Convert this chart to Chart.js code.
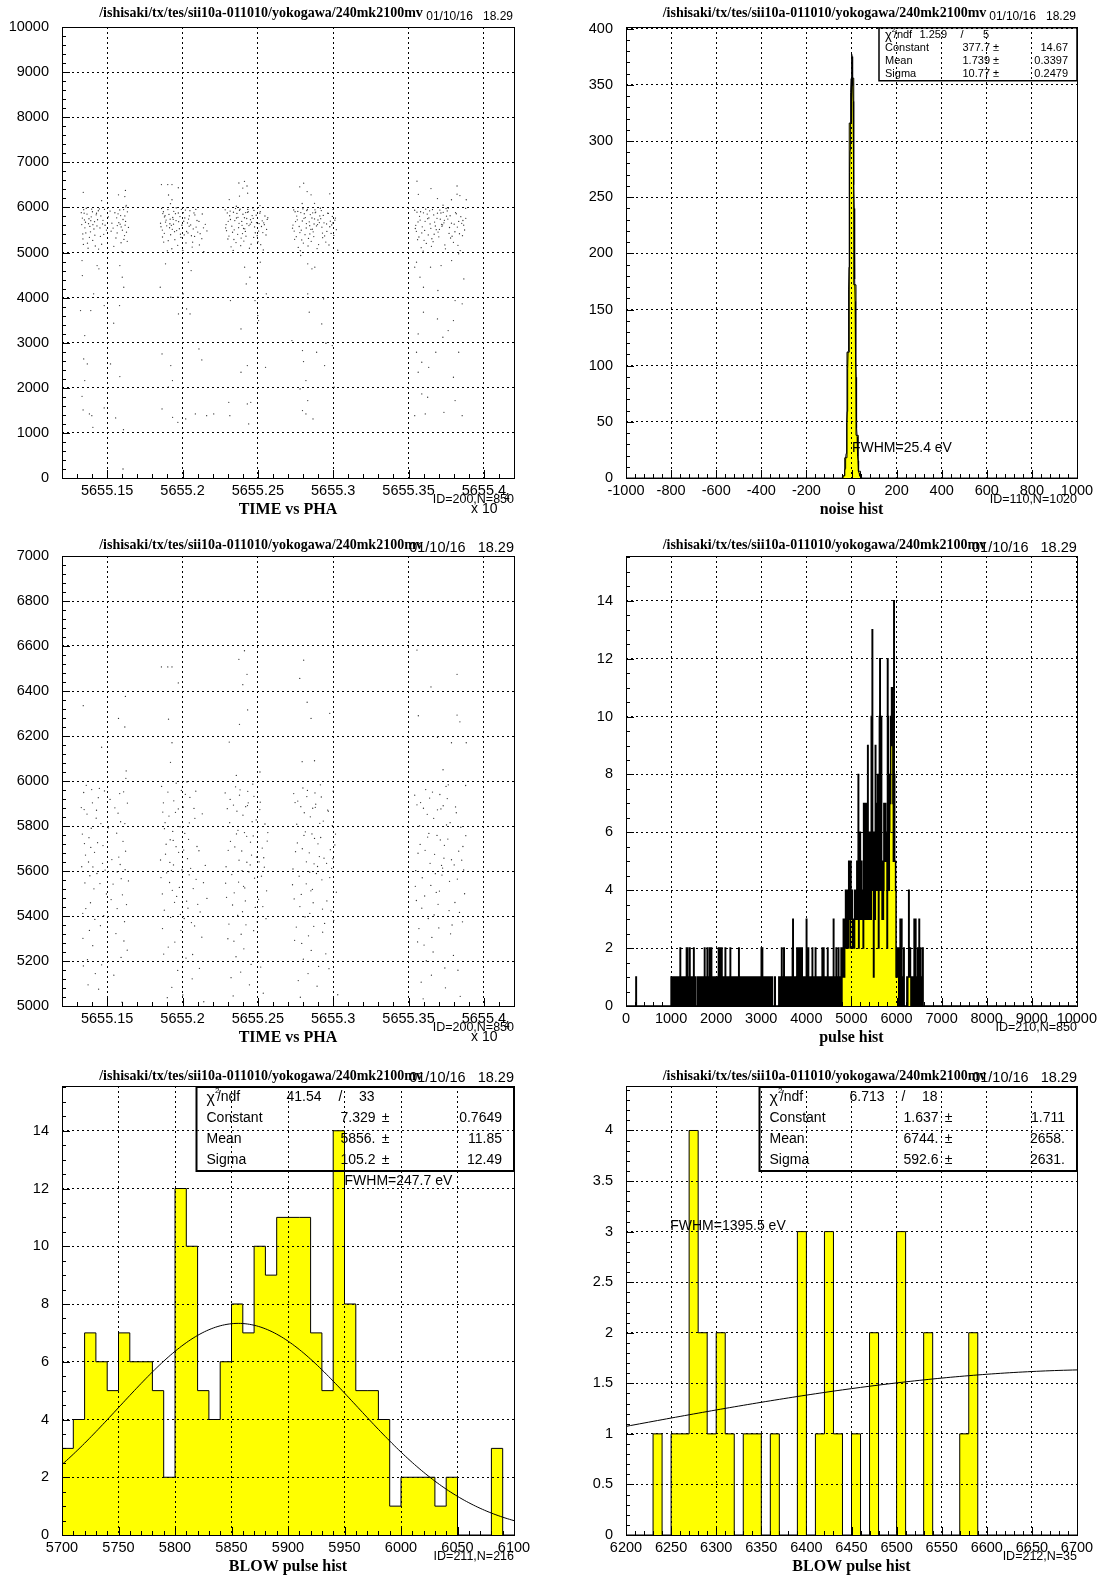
<!DOCTYPE html>
<html>
<head>
<meta charset="utf-8">
<title>240mk2100mv</title>
<script src="https://cdn.jsdelivr.net/npm/chart.js@4.4.1/dist/chart.umd.min.js"></script>
<style>
  html, body { margin: 0; padding: 0; background: #fff; }
  body { width: 1101px; height: 1581px; position: relative; overflow: hidden; }
  canvas { position: absolute; }
</style>
</head>
<body>
<canvas id="h200" width="556" height="528" style="left:0;top:0"></canvas>
<canvas id="h110" width="545" height="528" style="left:556px;top:0"></canvas>
<canvas id="h200z" width="556" height="529" style="left:0;top:528px"></canvas>
<canvas id="h210" width="545" height="529" style="left:556px;top:528px"></canvas>
<canvas id="h211" width="556" height="524" style="left:0;top:1057px"></canvas>
<canvas id="h212" width="545" height="524" style="left:556px;top:1057px"></canvas>
<script>
// ---- ID=200 : event time (x10^4) vs PHA, one array per burst
var burst1 = [
  [5655.1347,5873],[5655.1412,5521],[5655.1583,5944],[5655.1369,5206],[5655.1622,5688],[5655.1455,5357],[5655.1331,5619],[5655.1508,5792],
  [5655.1397,5962],[5655.1566,5433],[5655.1443,5075],[5655.1379,5748],[5655.1611,5289],[5655.1486,5604],[5655.1338,5412],[5655.1544,5137],
  [5655.1427,5835],[5655.1593,5566],[5655.1361,5981],[5655.1472,5713],[5655.1634,5902],[5655.1404,5268],[5655.1531,5651],[5655.1352,5547],
  [5655.1598,5017],[5655.1441,5926],[5655.1389,5459],[5655.1617,5811],[5655.1463,5183],[5655.1335,5764],[5655.1558,5322],[5655.1416,5683],
  [5655.1572,5857],[5655.1373,5094],[5655.1495,5498],[5655.1628,5451],[5655.1344,5949],[5655.1432,5589],[5655.1605,5732],[5655.1382,5336],
  [5655.1519,5918],[5655.1458,5811],[5655.1356,5671],[5655.1586,5629],[5655.1421,5144],[5655.1641,5556],[5655.1394,5790],[5655.1477,5402],
  [5655.1339,5301],[5655.1563,5768],[5655.1448,5967],[5655.1615,5375],[5655.1366,5853],[5655.1539,5542],[5655.1405,5618],[5655.1592,5216],
  [5655.1328,5882],[5655.1469,5634],[5655.1624,6012],[5655.1385,5579],[5655.1551,5881],[5655.1436,5726],[5655.1601,5494],[5655.1358,5433],
  [5655.1482,5956],[5655.1577,5662],[5655.1418,5385],[5655.1633,5248],[5655.1349,5722],[5655.1526,5473],[5655.1402,5903],[5655.1589,5819],
  [5655.1376,5640],[5655.1452,5544],[5655.1609,5952],[5655.1342,5178],[5655.1567,5596],[5655.1429,5870],[5655.1619,5606],[5655.1391,5705],
  [5655.1341,6335],[5655.1621,6376],[5655.1575,6278],[5655.1617,6240],[5655.1463,6150],[5655.1626,6045],
  [5655.1333,4822],[5655.1335,4489],[5655.1433,4711],[5655.1445,4637],[5655.1584,4711],[5655.1600,4452],[5655.1610,4230],[5655.1582,3824],
  [5655.1480,3824],[5655.1410,4083],[5655.1323,3713],[5655.1391,3713],[5655.1543,3432],[5655.1351,3158],[5655.1344,2640],[5655.1368,2529],
  [5655.1522,2529],[5655.1584,2248],[5655.1351,2160],[5655.1333,1812],[5655.1382,1420],[5655.1398,1383],[5655.1405,1124],[5655.1480,1553],
  [5655.1556,1331],[5655.1608,1072],[5655.1605,200],[5655.1340,1509]
];
var burst2 = [
  [5655.1873,5903],[5655.1961,5487],[5655.2082,5834],[5655.1905,5262],[5655.2033,5655],[5655.1857,5571],[5655.1992,5958],[5655.2117,5418],
  [5655.1938,5736],[5655.2064,5121],[5655.1884,5815],[5655.2011,5389],[5655.1926,5602],[5655.2139,5548],[5655.1867,5344],[5655.2049,5927],
  [5655.1974,5683],[5655.1899,5037],[5655.2096,5709],[5655.1947,5461],[5655.2023,5213],[5655.1861,5976],[5655.1983,5797],[5655.2071,5522],
  [5655.1916,5638],[5655.2005,5884],[5655.1879,5426],[5655.2128,5306],[5655.1953,5861],[5655.2044,5583],[5655.1891,5719],[5655.1968,5158],
  [5655.2088,5955],[5655.1932,5514],[5655.2015,5767],[5655.1854,5649],[5655.2059,5371],[5655.1942,5912],[5655.1996,5605],[5655.2109,5690],
  [5655.1910,5844],[5655.2027,5466],[5655.1875,5231],[5655.1979,5527],[5655.2076,5878],[5655.1921,5394],[5655.2040,5741],[5655.1958,5991],
  [5655.1887,5675],[5655.2101,5452],[5655.1989,5336],[5655.2054,5612],[5655.1935,5776],[5655.1866,5498],[5655.2019,5941],[5655.1949,5284],
  [5655.2090,5563],[5655.1903,5951],[5655.2008,5693],[5655.2131,5854],[5655.1929,5083],[5655.2036,5435],[5655.1880,5788],[5655.1972,5876],
  [5655.2067,5229],[5655.1914,5549],[5655.2151,5625],[5655.1986,5407],[5655.2045,5814],[5655.1895,5592],[5655.2112,5167],[5655.1957,5708],
  [5655.2002,5049],[5655.1869,5862],[5655.2080,5356],[5655.1940,5627],[5655.2162,5478],[5655.2029,5996],[5655.1918,5739],[5655.2141,5019],
  [5655.1860,6507],[5655.1902,6507],[5655.1930,6507],[5655.1972,6436],[5655.1907,6275],[5655.1930,6170],[5655.1920,6083],
  [5655.1852,4230],[5655.1887,4748],[5655.1922,4009],[5655.1969,4009],[5655.2039,4785],[5655.2057,4600],[5655.2004,4083],[5655.2027,3750],
  [5655.2050,3639],[5655.1973,3639],[5655.1864,2751],[5655.1922,2492],[5655.1933,2160],[5655.2109,2862],[5655.2128,2618],[5655.1864,1531],
  [5655.1934,1346],[5655.2021,1309],[5655.2085,1420],[5655.2160,1383],[5655.1969,1235],[5655.1906,2012]
];
var burst3 = [
  [5655.2297,5877],[5655.2405,5532],[5655.2516,5906],[5655.2341,5288],[5655.2458,5671],[5655.2289,5619],[5655.2382,5961],[5655.2533,5442],
  [5655.2426,5754],[5655.2322,5126],[5655.2489,5827],[5655.2366,5403],[5655.2441,5596],[5655.2562,5733],[5655.2308,5364],[5655.2474,5932],
  [5655.2393,5689],[5655.2336,5045],[5655.2508,5641],[5655.2417,5467],[5655.2355,5219],[5655.2547,5809],[5655.2283,5947],[5655.2431,5891],
  [5655.2372,5551],[5655.2496,5374],[5655.2318,5732],[5655.2455,5185],[5655.2401,5848],[5655.2524,5577],[5655.2347,5707],[5655.2466,5986],
  [5655.2292,5483],[5655.2389,5319],[5655.2539,5659],[5655.2436,5903],[5655.2327,5584],[5655.2483,5438],[5655.2411,5771],[5655.2361,5866],
  [5655.2501,5239],[5655.2449,5627],[5655.2303,5692],[5655.2558,5512],[5655.2378,5937],[5655.2421,5361],[5655.2469,5756],[5655.2332,5449],
  [5655.2513,5873],[5655.2395,5602],[5655.2352,5974],[5655.2444,5094],[5655.2529,5702],[5655.2313,5815],[5655.2407,5254],[5655.2478,5568],
  [5655.2368,5781],[5655.2554,5388],[5655.2286,5546],[5655.2433,5954],[5655.2491,5662],[5655.2343,5503],[5655.2419,5886],[5655.2519,5173],
  [5655.2375,5648],[5655.2462,5819],[5655.2301,5299],[5655.2543,5617],[5655.2398,5419],[5655.2451,5728],[5655.2338,5893],[5655.2505,5474],
  [5655.2386,5151],[5655.2566,5771],[5655.2427,5639],[5655.2316,5918],[5655.2472,5335],[5655.2358,5765],[5655.2536,5057],[5655.2413,5525],
  [5655.2411,6579],[5655.2374,6541],[5655.2428,6474],[5655.2400,6428],[5655.2432,6316],[5655.2378,6252],[5655.2310,6173],[5655.2514,6040],
  [5655.2357,6025],
  [5655.2318,3935],[5655.2423,4304],[5655.2447,4452],[5655.2412,4674],[5655.2516,4785],[5655.2500,3602],[5655.2505,3491],[5655.2388,3306],
  [5655.2556,4083],[5655.2481,3935],[5655.2430,2492],[5655.2388,2345],[5655.2551,2455],[5655.2307,1679],[5655.2430,1642],[5655.2453,1679],
  [5655.2439,1198],[5655.2314,1383],[5655.2207,1420]
];
var burst4 = [
  [5655.2747,5904],[5655.2852,5512],[5655.2963,5871],[5655.2791,5278],[5655.2908,5664],[5655.2733,5609],[5655.2829,5958],[5655.2986,5423],
  [5655.2876,5745],[5655.2768,5113],[5655.2934,5822],[5655.2813,5396],[5655.2889,5589],[5655.3011,5716],[5655.2755,5351],[5655.2921,5929],
  [5655.2841,5681],[5655.2782,5039],[5655.2956,5634],[5655.2867,5459],[5655.2802,5208],[5655.2994,5802],[5655.2738,5944],[5655.2881,5883],
  [5655.2821,5543],[5655.2943,5367],[5655.2762,5725],[5655.2903,5176],[5655.2848,5841],[5655.2977,5571],[5655.2795,5699],[5655.2915,5983],
  [5655.2741,5476],[5655.2836,5312],[5655.2998,5655],[5655.2884,5897],[5655.2774,5577],[5655.2929,5431],[5655.2859,5765],[5655.2808,5859],
  [5655.2951,5232],[5655.2896,5620],[5655.2750,5686],[5655.3021,5506],[5655.2825,5931],[5655.2871,5354],[5655.2917,5749],[5655.2779,5442],
  [5655.2968,5866],[5655.2844,5595],[5655.2799,5969],[5655.2893,5088],[5655.2981,5695],[5655.2758,5808],[5655.2854,5247],[5655.2925,5561],
  [5655.2815,5774],[5655.3004,5381],[5655.2730,5539],[5655.2879,5947],[5655.2939,5657],[5655.2788,5496],[5655.2864,5879],[5655.2972,5166],
  [5655.2822,5641],[5655.2911,5812],[5655.2744,5292],[5655.2990,5612],[5655.2845,5412],[5655.2899,5721],[5655.2785,5886],[5655.2958,5467],
  [5655.2833,5144],[5655.3015,5764],[5655.2873,5632],[5655.2765,5911],[5655.2930,5328],[5655.2806,5758],[5655.3030,5050],[5655.2862,5518],
  [5655.3000,5955],
  [5655.2804,6537],[5655.2778,6456],[5655.2827,6350],[5655.2853,6278],[5655.2977,6301],[5655.2876,6090],[5655.2794,6086],
  [5655.2784,4933],[5655.2831,4748],[5655.2859,4637],[5655.2878,4674],[5655.2831,4083],[5655.2936,3972],[5655.2841,3676],[5655.2726,3047],
  [5655.2796,2825],[5655.2890,2788],[5655.2943,2492],[5655.2952,2988],[5655.2803,2581],[5655.2819,2160],[5655.2780,1975],[5655.3006,2012],
  [5655.2831,1716],[5655.2796,1494],[5655.2819,1420],[5655.2866,1309],[5655.2994,2936],[5655.2924,3417]
];
var burst5 = [
  [5655.3556,5894],[5655.3684,5505],[5655.3812,5885],[5655.3603,5271],[5655.3735,5657],[5655.3548,5602],[5655.3659,5951],[5655.3838,5416],
  [5655.3711,5738],[5655.3584,5106],[5655.3776,5815],[5655.3631,5389],[5655.3722,5582],[5655.3861,5709],[5655.3569,5344],[5655.3757,5922],
  [5655.3673,5674],[5655.3597,5032],[5655.3803,5627],[5655.3696,5452],[5655.3618,5201],[5655.3847,5795],[5655.3541,5937],[5655.3715,5876],
  [5655.3648,5536],[5655.3789,5360],[5655.3577,5718],[5655.3741,5169],[5655.3667,5834],[5655.3824,5564],[5655.3610,5692],[5655.3749,5976],
  [5655.3552,5469],[5655.3655,5305],[5655.3853,5648],[5655.3730,5890],[5655.3591,5570],[5655.3769,5424],[5655.3689,5758],[5655.3624,5852],
  [5655.3798,5225],[5655.3726,5613],[5655.3563,5679],[5655.3872,5499],[5655.3640,5924],[5655.3701,5347],[5655.3761,5742],[5655.3588,5435],
  [5655.3817,5859],[5655.3678,5588],[5655.3614,5962],[5655.3745,5081],[5655.3833,5688],[5655.3573,5801],[5655.3663,5240],[5655.3772,5554],
  [5655.3635,5767],[5655.3858,5374],[5655.3545,5532],[5655.3708,5940],[5655.3785,5650],[5655.3607,5489],[5655.3692,5872],[5655.3828,5159],
  [5655.3643,5634],[5655.3752,5805],[5655.3560,5285],[5655.3866,5605],[5655.3670,5405],[5655.3738,5714],[5655.3599,5879],[5655.3808,5460],
  [5655.3652,5137],[5655.3880,5757],[5655.3719,5625],[5655.3580,5904],[5655.3779,5321],[5655.3627,5751],[5655.3843,5043],[5655.3705,5511],
  [5655.3879,5980],[5655.3764,5983],
  [5655.3556,6582],[5655.3822,6474],[5655.3649,6418],[5655.3565,6290],[5655.3822,6293],[5655.3841,6263],[5655.3692,6195],[5655.3785,6170],
  [5655.3883,6170],[5655.3729,6050],
  [5655.3553,4785],[5655.3576,4452],[5655.3541,4674],[5655.3599,4230],[5655.3646,4674],[5655.3716,4711],[5655.3786,4822],[5655.3833,4970],
  [5655.3867,4415],[5655.3809,3935],[5655.3856,3861],[5655.3695,4157],[5655.3599,3676],[5655.3692,3528],[5655.3798,3491],[5655.3763,3269],
  [5655.3728,3121],[5655.3564,3195],[5655.3553,2788],[5655.3681,2788],[5655.3833,2788],[5655.3588,2566],[5655.3634,2455],[5655.3564,2345],
  [5655.3798,2234],[5655.3588,1864],[5655.3627,1790],[5655.3541,1383],[5655.3611,1420],[5655.3735,1457],[5655.3856,1383],[5655.3809,1716]
];

// ---- ID=110 noise hist, 10 eV bins starting at -40
var noiseLow = -40;
var noiseCounts = [2, 18, 112, 316, 356, 172, 38, 6];

// ---- ID=210 pulse hist, 10 eV bins (only the filled stretches are listed)
var pulse220 = [1];                       // bin 220-230
var pulse1000 = [
  1,0,0,1,1,0,0,1,0,0, 1,0,0,1,0,1,0,0,1,0, 2,0,0,1,0,0,0,1,0,0, 1,0,0,1,2,0,2,0,1,0, 0,2,0,1,0,0,1,0,0,1,
  2,0,0,0,1,0,0,0,0,1, 0,1,0,0,1,0,0,1,0,0, 1,0,0,1,2,0,1,0,0,1, 2,0,1,0,0,2,0,1,0,2, 1,0,0,1,0,0,1,0,1,0
];
var pulse2000 = [
  1,0,0,1,0,2,0,0,2,0, 1,0,2,0,0,1,0,1,0,0, 2,0,0,1,0,0,1,0,1,0, 0,2,0,1,0,0,1,0,0,1, 0,1,0,0,1,0,0,1,0,1,
  2,0,1,0,0,1,0,0,1,0, 1,0,0,1,0,0,1,0,0,1, 0,1,0,1,0,0,1,0,0,1, 1,0,0,1,0,0,1,0,1,0, 0,1,0,1,0,0,1,0,0,1
];
var pulse3000 = [
  2,0,2,0,1,0,0,1,0,0, 1,0,0,1,0,0,1,0,0,1, 0,1,0,0,1,0,0,0,0,0, 1,0,0,0,0,0,0,0,0,1, 0,1,0,0,1,2,0,0,1,0,
  2,0,0,1,0,0,1,0,0,1, 0,0,1,0,1,0,0,1,0,2, 3,0,1,0,0,1,0,1,0,2, 1,2,0,0,2,1,0,2,0,1, 2,0,0,1,0,0,1,0,1,0
];
var pulse4000 = [
  3,0,1,0,2,0,1,0,0,1, 1,0,0,2,0,1,0,0,1,0, 2,0,1,0,0,1,0,1,0,0, 1,0,0,1,0,2,0,1,2,0, 0,1,0,0,1,0,1,2,0,0,
  1,0,0,1,0,1,0,0,1,0, 3,1,0,1,1,0,2,1,1,0, 1,2,1,0,0,1,1,2,0,1, 1,2,3,2,1,3,2,4,2,3, 3,4,2,3,5,3,4,2,5,3
];
var pulse5000 = [
  3,4,3,2,3,3,2,4,3,3, 4,3,5,3,4,8,2,4,3,6, 4,3,5,3,4,4,2,7,3,3, 5,7,3,4,7,3,9,4,5,3,
  6,4,5,3,10,6,13,4,5,1, 6,4,3,9,4,7,4,4,8,5, 2,6,10,12,4,7,10,5,3,5
];
var pulse6100 = [0,3,1,0,1,0,2,0,0,0];

// ---- ID=211 BLOW pulse hist, 5700-6100
var blow211 = [3,4,7,6,5,7,6,6,5,2, 12,10,5,4,6,8,7,10,9,11, 11,11,7,5,14,8,5,5,4,1, 2,2,2,1,2,0,0,0,3,0];
// ---- ID=212 BLOW pulse hist, 6200-6700
var blow212 = [0,0,0,1,0,1,1,4,2,1, 2,1,0,1,1,0,1,0,0,3, 0,1,3,1,0,1,0,2,0,0, 3,0,0,2,0,0,0,1,2,0, 0,0,0,0,0,0,0,0,0,0];

// gaussian fits: [constant, mean, sigma], errors, [chi2, ndf]
var fit110 = [377.7, 1.739, 10.77], err110 = [14.67, 0.3397, 0.2479], chi110 = [1.259, 5];
var fit211 = [7.329, 5856, 105.2], err211 = [0.7649, 11.85, 12.49], chi211 = [41.54, 33];
var fit212 = [1.637, 6744, 592.6], err212 = [1.711, 2658, 2631], chi212 = [6.713, 18];

var pathTitle = '/ishisaki/tx/tes/sii10a-011010/yokogawa/240mk2100mv';
var stamp = '01/10/16   18.29';

// ---------------------------------------------------------------
var SANS = '"Liberation Sans", Helvetica, Arial, sans-serif';
var SERIF = '"Liberation Serif", "Times New Roman", serif';

function onStep(v, step) {
  var r = v / step;
  return Math.abs(r - Math.round(r)) < 1e-6;
}

function toPoints(pairs) {
  return pairs.map(function (p) { return {x: p[0], y: p[1]}; });
}

function histPoints(lo, width, counts) {
  var pts = [{x: lo, y: 0}];
  counts.forEach(function (c, i) { pts.push({x: lo + i * width, y: c}); });
  pts.push({x: lo + counts.length * width, y: 0});
  return pts;
}

function gaussPoints(p, x0, x1, dx) {
  var pts = [];
  for (var x = x0; x <= x1 + 1e-9; x += dx) {
    var u = (x - p[1]) / p[2];
    pts.push({x: x, y: p[0] * Math.exp(-0.5 * u * u)});
  }
  return pts;
}

function fmt(v) {
  var s = v.toPrecision(4);
  return s.indexOf('.') < 0 ? s + '.' : s;
}

function fwhm(sigma) {
  return (2 * Math.sqrt(2 * Math.LN2) * sigma).toFixed(1);
}

function axis(min, max, step, major, label) {
  return {
    type: 'linear', min: min, max: max,
    grid: {
      z: 1, drawTicks: false, lineWidth: 1,
      color: function (c) { return c.tick && onStep(c.tick.value, major) ? '#000' : 'rgba(0,0,0,0)'; }
    },
    border: { display: false, dash: [2, 3] },
    ticks: {
      stepSize: step, autoSkip: false, maxRotation: 0, minRotation: 0, includeBounds: false,
      padding: 4, color: '#000', font: { family: SANS, size: 14.5 },
      callback: function (v) { return onStep(v, major) ? label(v) : ''; }
    }
  };
}

function text(ctx, s, x, y, font, align) {
  ctx.font = font;
  ctx.textAlign = align || 'left';
  ctx.textBaseline = 'middle';
  ctx.fillText(s, x, y);
}

function drawStats(ctx, a, st) {
  var x0 = a.right - st.w, y0 = a.top, h = st.h, c = st.cols, fs = st.size;
  var font = fs + 'px ' + SANS;
  ctx.lineWidth = st.lw;
  ctx.strokeRect(x0, y0 + st.lw / 2, st.w, h);
  var row = function (i) { return y0 + (i + 0.5) * h / 4 + 1; };
  // chi2 / ndf line
  ctx.font = (fs + 2) + 'px ' + SANS;
  var wChi = ctx.measureText('\u03c7').width;
  text(ctx, '\u03c7', x0 + c[0], row(0) + 1, (fs + 2) + 'px ' + SANS);
  text(ctx, '2', x0 + c[0] + wChi, row(0) - fs * 0.45, Math.round(fs * 0.6) + 'px ' + SANS);
  text(ctx, '/ndf', x0 + c[0] + wChi + 2, row(0), font);
  text(ctx, fmt(st.chi[0]), x0 + c[1], row(0), font, 'right');
  text(ctx, '/', x0 + c[2], row(0), font, 'center');
  text(ctx, String(st.chi[1]), x0 + c[3], row(0), font, 'right');
  ['Constant', 'Mean', 'Sigma'].forEach(function (name, i) {
    text(ctx, name, x0 + c[0], row(i + 1), font);
    text(ctx, fmt(st.fit[i]), x0 + c[4], row(i + 1), font, 'right');
    text(ctx, '\u00b1', x0 + c[5], row(i + 1), font, 'center');
    text(ctx, fmt(st.err[i]), x0 + st.w - c[6], row(i + 1), font, 'right');
  });
}

// frame, inner ticks and the PAW style labels around each plot
var pawFrame = {
  id: 'pawFrame',
  afterDraw: function (chart, args, o) {
    var ctx = chart.ctx, a = chart.chartArea;
    var xs = chart.scales.x, ys = chart.scales.y;
    ctx.save();
    ctx.fillStyle = '#000';
    ctx.strokeStyle = '#000';
    ctx.lineWidth = 1;
    ctx.beginPath();
    xs.ticks.forEach(function (t) {
      var px = Math.round(xs.getPixelForValue(t.value)) + 0.5;
      var len = onStep(t.value, o.xMajor) ? 8 : 4;
      ctx.moveTo(px, a.bottom); ctx.lineTo(px, a.bottom - len);
    });
    ys.ticks.forEach(function (t) {
      var py = Math.round(ys.getPixelForValue(t.value)) + 0.5;
      var len = onStep(t.value, o.yMajor) ? 8 : 4;
      ctx.moveTo(a.left, py); ctx.lineTo(a.left + len, py);
    });
    ctx.stroke();
    ctx.strokeRect(Math.round(a.left) + 0.5, Math.round(a.top) + 0.5,
                   Math.round(a.right - a.left), Math.round(a.bottom - a.top));

    var cx = (a.left + a.right) / 2;
    text(ctx, pathTitle, cx - 27, a.top + o.titleDy, 'bold 14px ' + SERIF, 'center');
    text(ctx, stamp, a.right - (o.small ? 1 : 0), a.top + o.stampDy, (o.small ? 12 : 14.5) + 'px ' + SANS, 'right');
    text(ctx, o.xTitle, cx, a.bottom + 32, 'bold 16px ' + SERIF, 'center');
    text(ctx, o.id, a.right, a.bottom + 22, '12.5px ' + SANS, 'right');
    if (o.power) {
      text(ctx, 'x 10', a.left + 409, a.bottom + 31, '14px ' + SANS);
      text(ctx, '4', a.left + 442, a.bottom + 20, '10px ' + SANS);
    }
    if (o.stats) drawStats(ctx, a, o.stats);
    if (o.fwhm) {
      text(ctx, 'FWHM=' + fwhm(o.fwhm.sigma) + ' eV', xs.getPixelForValue(o.fwhm.x),
           ys.getPixelForValue(o.fwhm.y), '14px ' + SANS);
    }
    ctx.restore();
  }
};

var COLS = { left: { yw: 62, right: 42 }, right: { yw: 70, right: 24 } };
var ROWS = [
  { top: 27, bottom: 20, titleDy: -14, stampDy: -10, small: true },
  { top: 28, bottom: 21, titleDy: -11, stampDy: -8, small: false },
  { top: 29, bottom: 16, titleDy: -10, stampDy: -8, small: false }
];

function panel(id, col, row, datasets, xAxis, yAxis, deco) {
  var c = COLS[col], r = ROWS[row];
  xAxis.afterFit = function (s) { s.height = 30; };
  yAxis.afterFit = function (s) { s.width = c.yw; };
  yAxis.ticks.padding = 13;
  deco.titleDy = r.titleDy;
  deco.stampDy = r.stampDy;
  deco.small = r.small;
  new Chart(document.getElementById(id), {
    type: 'line',
    data: { datasets: datasets },
    options: {
      responsive: false, animation: false, devicePixelRatio: 1,
      layout: { padding: { left: 0, right: c.right, top: r.top, bottom: r.bottom } },
      scales: { x: xAxis, y: yAxis },
      plugins: { legend: { display: false }, tooltip: { enabled: false }, pawFrame: deco }
    },
    plugins: [pawFrame]
  });
}

function dots(pairs) {
  return { data: toPoints(pairs), showLine: false, pointRadius: 0.65, pointHoverRadius: 0,
           pointBackgroundColor: '#333', pointBorderWidth: 0 };
}
function hist(points, lw) {
  return { data: points, stepped: true, borderColor: '#000', borderWidth: lw || 1,
           backgroundColor: '#ffff00', fill: 'origin', pointRadius: 0 };
}
function curve(points) {
  return { data: points, borderColor: '#000', borderWidth: 1, fill: false, pointRadius: 0, tension: 0 };
}

var allEvents = burst1.concat(burst2, burst3, burst4, burst5);
var timeLabel = function (v) { return String(Math.round(v * 100) / 100); };
var intLabel = function (v) { return String(Math.round(v)); };
var tenthLabel = function (v) { return String(Math.round(v * 10) / 10); };

// full pulse spectrum, 1000 bins of 10 eV
var pulseSpectrum = [];
for (var i = 0; i < 1000; i++) pulseSpectrum.push(0);
function place(lo, counts) { counts.forEach(function (c, k) { pulseSpectrum[lo / 10 + k] = c; }); }
place(220, pulse220);
place(1000, pulse1000);
place(2000, pulse2000);
place(3000, pulse3000);
place(4000, pulse4000);
place(5000, pulse5000);
place(5700, blow211);
place(6100, pulse6100);
place(6200, blow212);

panel('h200', 'left', 0, [dots(allEvents)],
  axis(5655.12, 5655.42, 0.01, 0.05, timeLabel), axis(0, 10000, 200, 1000, intLabel),
  { xMajor: 0.05, yMajor: 1000, xTitle: 'TIME vs PHA', id: 'ID=200,N=850', power: true });

panel('h110', 'right', 0, [curve(gaussPoints(fit110, -1000, 1000, 1)), hist(histPoints(noiseLow, 10, noiseCounts))],
  axis(-1000, 1000, 40, 200, intLabel), axis(0, 401.5, 10, 50, intLabel),
  { xMajor: 200, yMajor: 50, xTitle: 'noise hist', id: 'ID=110,N=1020',
    stats: { w: 198, h: 53, lw: 1.5, size: 11, cols: [6, 68, 83, 110, 111, 117, 9],
             fit: fit110, err: err110, chi: chi110 },
    fwhm: { sigma: fit110[2], x: 2, y: 26.6 } });

panel('h200z', 'left', 1, [dots(allEvents)],
  axis(5655.12, 5655.42, 0.01, 0.05, timeLabel), axis(5000, 7000, 40, 200, intLabel),
  { xMajor: 0.05, yMajor: 200, xTitle: 'TIME vs PHA', id: 'ID=200,N=850', power: true });

panel('h210', 'right', 1, [hist(histPoints(0, 10, pulseSpectrum), 1.5)],
  axis(0, 10000, 200, 1000, intLabel), axis(0, 15.55, 0.5, 2, intLabel),
  { xMajor: 1000, yMajor: 2, xTitle: 'pulse hist', id: 'ID=210,N=850' });

panel('h211', 'left', 2, [curve(gaussPoints(fit211, 5700, 6100, 2)), hist(histPoints(5700, 10, blow211))],
  axis(5700, 6100, 10, 50, intLabel), axis(0, 15.55, 0.5, 2, intLabel),
  { xMajor: 50, yMajor: 2, xTitle: 'BLOW pulse hist', id: 'ID=211,N=216',
    stats: { w: 317.5, h: 84, lw: 2, size: 14, cols: [10, 125, 144, 178, 179, 189, 12],
             fit: fit211, err: err211, chi: chi211 },
    fwhm: { sigma: fit211[2], x: 5950, y: 12.25 } });

panel('h212', 'right', 2, [curve(gaussPoints(fit212, 6200, 6700, 5)), hist(histPoints(6200, 10, blow212))],
  axis(6200, 6700, 10, 50, intLabel), axis(0, 4.44, 0.1, 0.5, tenthLabel),
  { xMajor: 50, yMajor: 0.5, xTitle: 'BLOW pulse hist', id: 'ID=212,N=35',
    stats: { w: 317.5, h: 84, lw: 2, size: 14, cols: [10, 125, 144, 178, 179, 189, 12],
             fit: fit212, err: err212, chi: chi212 },
    fwhm: { sigma: fit212[2], x: 6249, y: 3.05 } });
</script>
</body>
</html>
